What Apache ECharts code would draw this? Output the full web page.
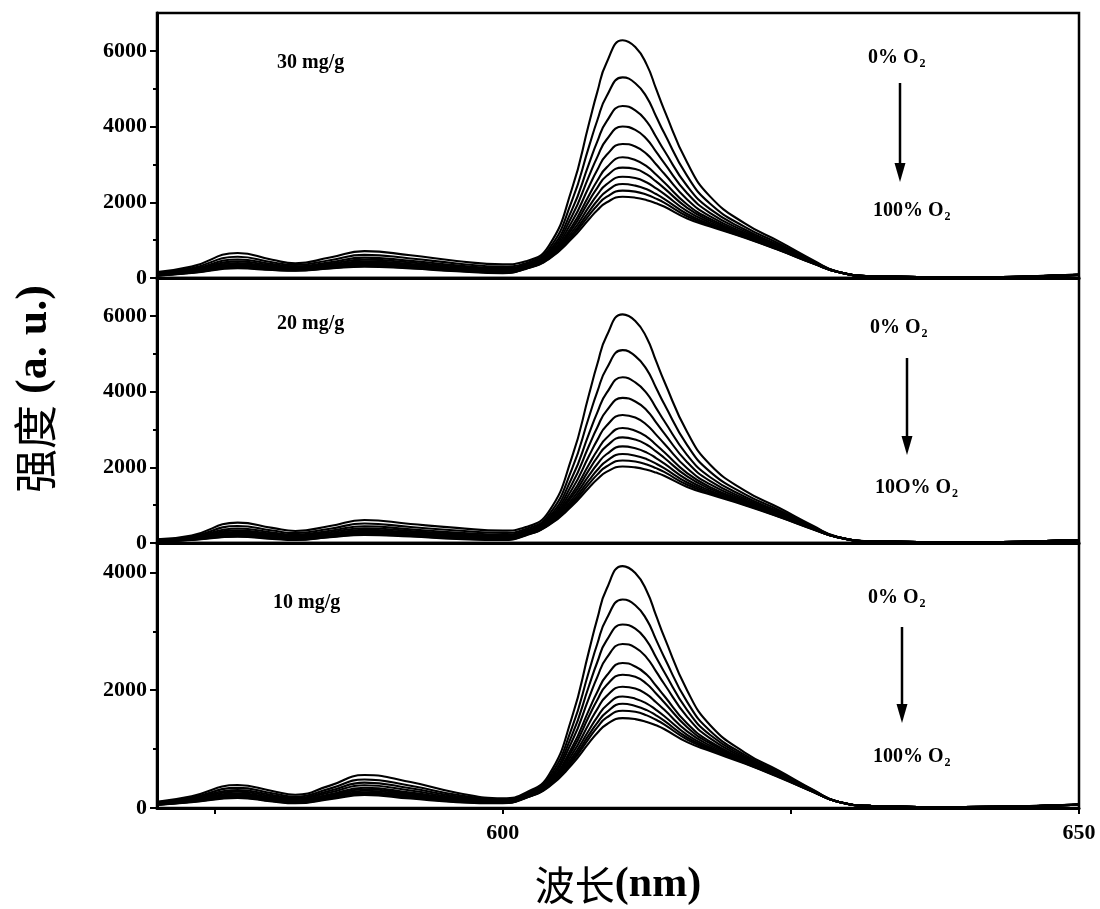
<!DOCTYPE html>
<html>
<head>
<meta charset="utf-8">
<script src="https://cdn.jsdelivr.net/npm/echarts@6/dist/echarts.min.js"></script>
<style>html,body{margin:0;padding:0;background:#fff;}#c{width:1100px;height:909px;}</style>
</head>
<body>
<div id="c"></div>
<script>
// wavelength grid (nm)
const wavelength = [570,573,577,580,582,585,588,592,596,600,602,604,606,607.5,608.2,609,610.4,611.5,612.5,613.3,614,616,618,621,624,627,629,632,640,650];
const o2Levels = ['0%','10%','20%','30%','40%','50%','60%','70%','80%','90%','100%'];

// 30 mg/g, one row per O2 level
const mg30 = [
[160,300,660,480,390,540,710,600,450,360,440,850,2350,4100,4910,5680,6280,6100,5630,5000,4450,3050,2150,1440,960,460,170,45,15,90],
[136,259,563,415,342,470,612,516,385,305,392,766,2036,3490,4161,4796,5300,5145,4772,4274,3835,2696,1960,1349,905,440,169,45,15,88],
[118,229,490,367,306,418,538,453,337,263,356,703,1800,3033,3600,4132,4545,4429,4129,3730,3374,2430,1818,1280,863,424,168,45,15,86],
[105,207,438,332,280,381,485,408,302,234,330,658,1630,2703,3194,3653,4000,3912,3664,3337,3041,2238,1716,1231,834,413,167,45,15,85],
[94,188,393,302,258,349,439,369,272,208,308,619,1485,2424,2851,3248,3540,3475,3271,3004,2759,2075,1629,1189,808,404,167,45,15,83],
[85,173,357,278,240,323,403,338,248,188,290,588,1368,2195,2570,2916,3190,3117,2950,2732,2529,1942,1558,1155,788,396,166,45,15,83],
[79,162,333,261,228,305,378,317,231,174,278,567,1289,2043,2383,2695,2915,2878,2735,2551,2375,1854,1510,1132,774,391,166,45,15,82],
[73,152,309,245,216,288,353,296,215,160,266,546,1210,1890,2196,2474,2675,2639,2521,2369,2221,1765,1463,1109,760,386,166,45,15,81],
[68,144,288,232,206,273,333,278,202,148,256,528,1145,1763,2040,2290,2484,2440,2342,2218,2093,1691,1423,1090,748,382,165,45,15,81],
[64,137,272,221,198,262,316,264,191,139,248,514,1092,1662,1915,2142,2307,2281,2199,2097,1990,1632,1392,1075,739,378,165,45,15,80],
[60,130,256,210,190,250,300,250,180,130,240,500,1040,1560,1790,1995,2148,2122,2056,1976,1888,1573,1360,1060,730,375,165,45,15,80]
];

// 20 mg/g
const mg20 = [
[98,200,538,400,318,450,609,500,400,326,420,830,2260,3943,4722,5463,6040,5867,5415,4809,4280,2933,2068,1385,923,442,164,45,15,80],
[83,171,449,330,261,378,514,421,330,267,367,744,1953,3349,3993,4603,5094,4938,4580,4101,3679,2585,1879,1292,866,421,162,45,15,79],
[72,150,382,278,218,324,442,361,278,223,328,679,1722,2904,3446,3957,4379,4242,3953,3570,3229,2323,1737,1222,824,405,160,45,15,78],
[63,134,334,241,187,285,391,319,241,191,299,632,1555,2582,3052,3491,3833,3739,3501,3187,2903,2134,1635,1172,793,393,159,45,15,77],
[56,121,293,209,161,252,347,282,209,164,275,592,1415,2310,2718,3097,3383,3313,3118,2863,2628,1975,1548,1130,767,383,158,45,15,77],
[51,110,260,183,140,225,311,253,183,142,255,560,1299,2087,2444,2774,3038,2965,2805,2597,2403,1844,1477,1095,746,375,157,45,15,76],
[47,103,237,165,125,207,287,233,165,127,242,538,1222,1938,2262,2559,2790,2732,2596,2420,2253,1757,1430,1072,732,370,157,45,15,76],
[43,96,215,148,111,189,264,213,148,112,229,517,1146,1790,2080,2344,2552,2500,2387,2243,2102,1670,1382,1048,718,365,156,45,15,76],
[40,90,197,133,99,174,244,196,133,100,218,499,1081,1666,1928,2165,2350,2307,2213,2096,1977,1597,1343,1029,706,360,156,45,15,75],
[38,85,182,122,90,162,228,183,122,90,209,484,1030,1567,1806,2021,2180,2152,2074,1978,1877,1539,1312,1013,696,357,155,45,15,75],
[35,80,167,110,80,150,212,170,110,80,200,470,979,1468,1685,1878,2022,1997,1935,1860,1777,1481,1280,998,687,353,155,45,15,75]
];

// 10 mg/g
const mg10 = [
[107,200,390,290,225,380,560,440,260,165,260,560,1537,2681,3211,3715,4107,3989,3682,3270,2910,1995,1406,942,628,301,111,35,15,60],
[95,178,342,250,193,329,485,378,225,146,240,516,1361,2335,2785,3210,3540,3443,3194,2860,2565,1802,1309,901,604,294,110,35,15,59],
[86,162,306,222,170,293,431,334,199,133,226,484,1234,2084,2475,2842,3115,3047,2838,2561,2314,1662,1239,871,587,288,110,35,15,58],
[78,149,278,198,151,263,387,297,178,122,214,458,1130,1879,2223,2544,2786,2724,2550,2319,2110,1548,1182,846,572,284,110,35,15,57],
[71,136,249,175,132,233,343,261,158,111,202,432,1026,1675,1971,2245,2463,2402,2261,2076,1906,1434,1125,822,558,279,110,35,15,57],
[67,129,234,162,122,217,319,241,146,105,196,418,970,1565,1835,2084,2264,2228,2106,1946,1797,1372,1094,809,551,277,110,35,15,56],
[63,121,216,148,110,198,292,219,134,98,189,402,907,1439,1680,1900,2060,2030,1928,1797,1671,1302,1059,793,542,274,110,35,15,56],
[59,114,201,135,100,182,268,199,122,92,183,388,851,1329,1544,1740,1894,1856,1773,1666,1562,1241,1028,780,534,272,110,35,15,56],
[56,109,190,126,93,171,252,185,114,88,178,378,811,1250,1447,1625,1770,1732,1662,1573,1483,1197,1007,771,529,270,110,35,15,55],
[54,105,181,119,87,162,238,174,108,84,175,370,779,1188,1370,1533,1651,1633,1573,1498,1420,1162,989,763,524,269,110,35,15,55],
[51,100,170,110,80,150,221,160,100,80,170,360,739,1109,1273,1418,1527,1509,1462,1405,1342,1118,967,754,519,267,110,35,15,55]
];

// axis ticks
const yLabels7000 = [0,2000,4000,6000];
const yMinor7000 = [1000,3000,5000];
const yLabels4500 = [0,2000,4000];
const yMinor4500 = [1000,3000];
const xTicks = [575,600,625,650];
const xLabels = [600,650];

const panels = [
  {name:'30 mg/g', data:mg30, max:7000, labels:yLabels7000, minor:yMinor7000, top:13},
  {name:'20 mg/g', data:mg20, max:7000, labels:yLabels7000, minor:yMinor7000, top:278},
  {name:'10 mg/g', data:mg10, max:4500, labels:yLabels4500, minor:yMinor4500, top:543}
];

const serifBold = {fontFamily:'Liberation Serif', fontWeight:'bold', color:'#000'};
const plain = v => String(v);
const grids = [], xAxes = [], yAxes = [], series = [];
panels.forEach((p, i) => {
  grids.push({left:157, right:21, top:p.top, height:265, show:true, borderColor:'#000', borderWidth:2.5, backgroundColor:'transparent'});
  const isBottom = i === 2;
  xAxes.push({
    type:'value', gridIndex:i, min:570, max:650,
    axisLine:{show:true, onZero:false, lineStyle:{color:'#000', width:3}},
    axisTick:{show:isBottom, customValues:xTicks, length:6, lineStyle:{color:'#000', width:2}},
    axisLabel:{show:isBottom, customValues:xLabels, margin:14, fontSize:22, formatter:plain, ...serifBold},
    splitLine:{show:false},
    name: isBottom ? '{cn|波长}{en|(nm)}' : '',
    nameLocation:'middle', nameGap:56,
    nameTextStyle:{rich:{cn:{fontFamily:'Noto Sans CJK SC', fontSize:40, color:'#000'}, en:{fontFamily:'Liberation Serif', fontWeight:'bold', fontSize:42, color:'#000'}}}
  });
  yAxes.push({
    type:'value', gridIndex:i, min:0, max:p.max,
    axisLine:{show:true, onZero:false, lineStyle:{color:'#000', width:3}},
    axisTick:{show:true, customValues:p.labels, length:7, lineStyle:{color:'#000', width:2}},
    axisLabel:{show:true, customValues:p.labels, margin:10, fontSize:22, formatter:plain, ...serifBold},
    splitLine:{show:false}
  });
  // minor ticks axis
  yAxes.push({
    type:'value', gridIndex:i, min:0, max:p.max, position:'left',
    axisLine:{show:false},
    axisTick:{show:true, customValues:p.minor, length:4, lineStyle:{color:'#000', width:2}},
    axisLabel:{show:false},
    splitLine:{show:false}
  });
  p.data.forEach((row, k) => {
    series.push({
      type:'line', name:p.name + ' ' + o2Levels[k] + ' O2',
      xAxisIndex:i, yAxisIndex:i*2,
      data: wavelength.map((w, j) => [w, row[j]]),
      showSymbol:false, smooth:0.5, silent:true,
      lineStyle:{color:'#000', width:2.1}
    });
  });
});

function label(text, x, y) {
  return {type:'text', x:x, y:y, silent:true,
    style:{text:text, fill:'#000', font:'bold 20px "Liberation Serif"', verticalAlign:'middle',
      rich:{s:{font:'bold 12px "Liberation Serif"', fill:'#000', padding:[12,0,0,1]}}}};
}
function arrow(x, y1, y2) {
  return [
    {type:'line', silent:true, shape:{x1:x, y1:y1, x2:x, y2:y2-16}, style:{stroke:'#000', lineWidth:2.5}},
    {type:'polygon', silent:true, shape:{points:[[x-5.5, y2-19],[x+5.5, y2-19],[x, y2]]}, style:{fill:'#000'}}
  ];
}

const graphic = [
  {type:'text', x:35, y:389, rotation:Math.PI/2, silent:true,
    style:{text:'{cn|强度}{en| (a. u.)}', align:'center', verticalAlign:'middle',
      rich:{cn:{font:'44px "Noto Sans CJK SC"', fill:'#000'}, en:{font:'bold 44px "Liberation Serif"', fill:'#000'}}}},
  label('30 mg/g', 277, 63),
  label('20 mg/g', 277, 324),
  label('10 mg/g', 273, 603),
  label('0% O{s|2}', 868, 58),
  label('100% O{s|2}', 873, 211),
  label('0% O{s|2}', 870, 328),
  label('10O% O{s|2}', 875, 488),
  label('0% O{s|2}', 868, 598),
  label('100% O{s|2}', 873, 757),
  ...arrow(900, 83, 182),
  ...arrow(907, 358, 455),
  ...arrow(902, 627, 723)
];

const chart = echarts.init(document.getElementById('c'), null, {renderer:'canvas'});
chart.setOption({
  backgroundColor:'#fff',
  animation:false,
  grid:grids, xAxis:xAxes, yAxis:yAxes, series:series, graphic:graphic
});
</script>
</body>
</html>
